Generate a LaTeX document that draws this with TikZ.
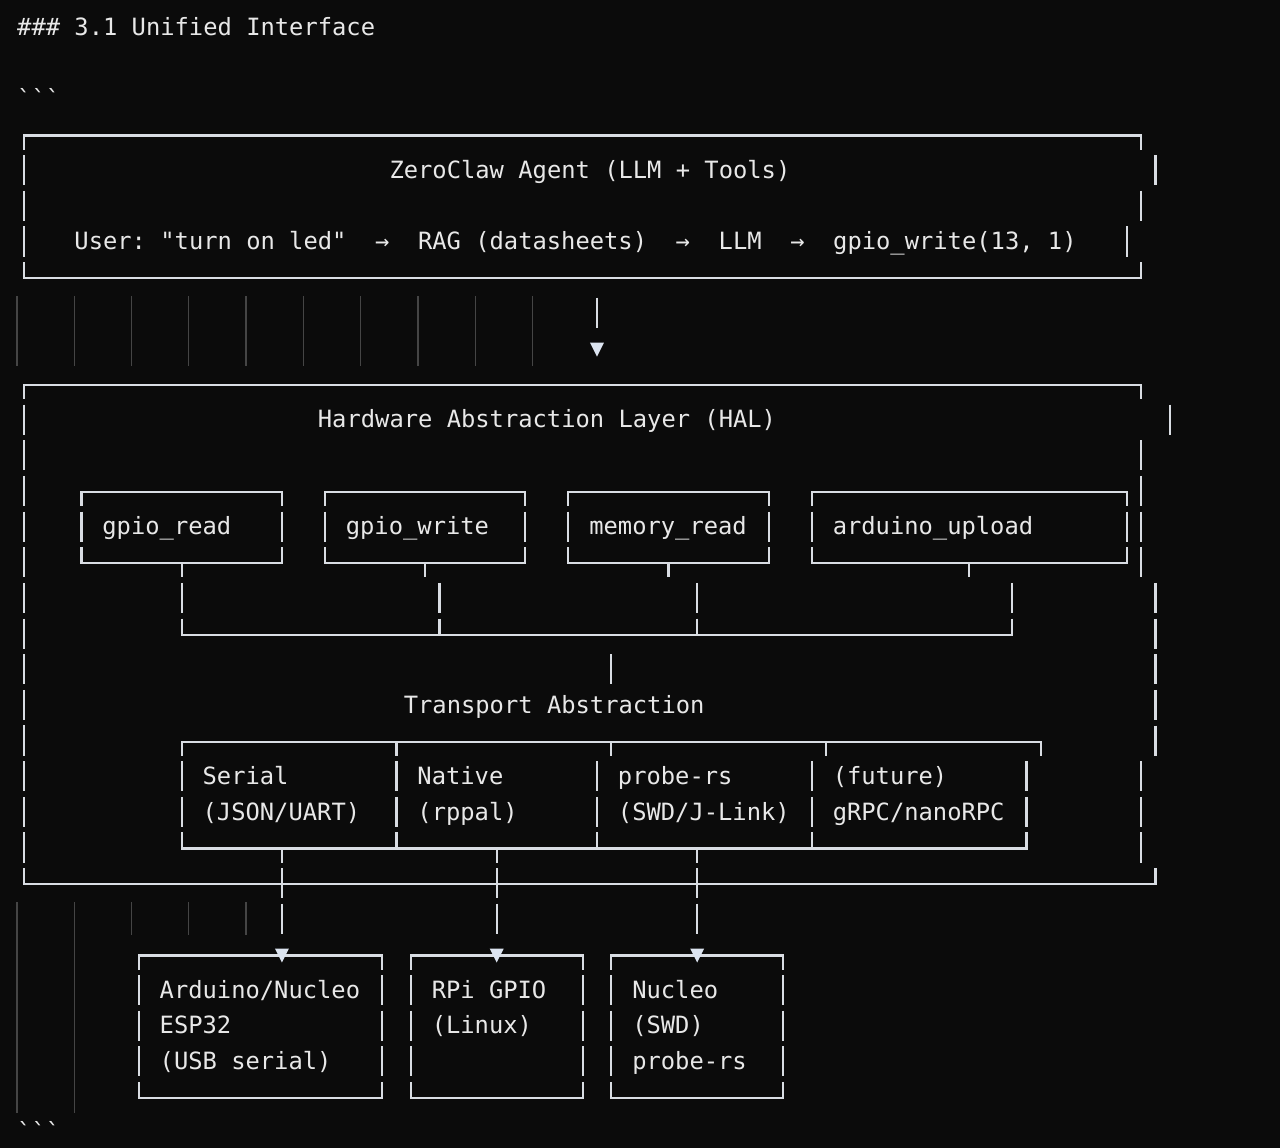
\documentclass[tikz,border=0pt]{standalone}
\usepackage{fontspec}
\setmonofont{DejaVu Sans Mono}
\usepackage{tikz}
\definecolor{bgcol}{HTML}{0B0B0B}
\definecolor{inkcol}{HTML}{E8E8E8}
\definecolor{linecol}{HTML}{D9DDE3}
\definecolor{tipcol}{HTML}{DCE4F0}
\definecolor{guidecol}{HTML}{454545}
\newcommand{\termfont}{\ttfamily\fontsize{23.78pt}{35.65pt}\selectfont\frenchspacing\hyphenpenalty=10000\exhyphenpenalty=10000}
\tikzset{
    wire/.style={draw=linecol, line width=2.2pt},
    hline/.style={wire, line cap=rect},
    vline/.style={wire, dash pattern=on 30.15pt off 5.5pt, dash phase=16.15pt},
    guide/.style={draw=guidecol, line width=1.3pt},
    termtext/.style={font=\termfont, text=inkcol, inner sep=0pt, anchor=base west},
    termbox/.style 2 args={font=\termfont, text=inkcol, anchor=north west, inner xsep=20.98pt, inner ysep=0pt, outer sep=0pt, align=left, text width=#1, minimum height=#2, execute at begin node={\spaceskip=0pt\xspaceskip=0pt\strut}, execute at end node=\strut}
}
\newcommand{\cellbar}[2]{\draw [wire] (#1, #2-0.407) -- (#1, #2+0.438);}
\newcommand{\downhalf}[2]{\draw [wire] (#1, #2+0.045) -- (#1, #2+0.438);}
\newcommand{\uphalf}[2]{\draw [wire] (#1, #2-0.407) -- (#1, #2+0.045);}
\newcommand{\downtip}[1]{\fill [tipcol] (#1) ++(-0.49, -0.196) -- ++(0.98, 0) -- ++(-0.49, 0.392) -- cycle;}
\newcommand{\frameit}[1]{%
    \draw [hline] (#1.north west) -- (#1.north east);
    \draw [hline] (#1.south west) -- (#1.south east);
    \draw [vline] (#1.north west) -- (#1.south west);
    \draw [vline] (#1.north east) -- (#1.south east);}

\begin{document}
\begin{tikzpicture}[x=14.32pt, y=-35.65pt]
    \fill [bgcol] (-1.1872, -0.7574) rectangle (88.198, 31.444);
    \useasboundingbox (-1.1872, -0.7574) rectangle (88.198, 31.444);

    \node [termtext] (heading) at (0, 0.247) {\#\#\# 3.1 Unified Interface};
    \node [termtext] (fenceopen) at (0, 2.247) {\textasciigrave\textasciigrave\textasciigrave};
    \node [termtext] (fenceclose) at (0, 31.247) {\textasciigrave\textasciigrave\textasciigrave};

    % agent box
    \draw [hline] (0.5, 3.045) -- (78.5, 3.045);
    \draw [hline] (0.5, 7.045) -- (78.5, 7.045);
    \draw [vline] (0.5, 3.045) -- (0.5, 7.045);
    \downhalf{78.5}{3} \cellbar{79.5}{4} \cellbar{78.5}{5} \cellbar{77.5}{6} \uphalf{78.5}{7}
    \node [termtext] (agenttitle) at (26, 4.247) {ZeroClaw Agent (LLM + Tools)};
    \node [termtext] (agentflow) at (4, 6.247) {User: "turn on led"~~→~~RAG (datasheets)~~→~~LLM~~→~~gpio\_write(13, 1)};

    \foreach \x in {0, 4, ..., 36} \draw [guide] (\x, 7.55) -- (\x, 9.5);
    \coordinate (agentout) at (40.5, 8);
    \coordinate (halin) at (40.5, 9.05);
    \cellbar{40.5}{8}
    \downtip{halin}

    % HAL box
    \draw [hline] (0.5, 10.045) -- (78.5, 10.045);
    \draw [hline] (0.5, 24.045) -- (79.5, 24.045);
    \draw [vline] (0.5, 10.045) -- (0.5, 24.045);
    \downhalf{78.5}{10} \cellbar{80.5}{11}
    \foreach \r in {12, ..., 15} {\cellbar{78.5}{\r}}
    \foreach \r in {16, ..., 20} {\cellbar{79.5}{\r}}
    \foreach \r in {21, 22, 23} {\cellbar{78.5}{\r}}
    \uphalf{79.5}{24}
    \node [termtext] (haltitle) at (21, 11.247) {Hardware Abstraction Layer (HAL)};

    \node [termbox={158.52pt}{71.3pt}] (tread) at (4.5, 13.045) {gpio\_read};
    \node [termbox={158.52pt}{71.3pt}] (twrite) at (21.5, 13.045) {gpio\_write};
    \node [termbox={158.52pt}{71.3pt}] (tmem) at (38.5, 13.045) {memory\_read};
    \node [termbox={273.08pt}{71.3pt}] (tupload) at (55.5, 13.045) {arduino\_upload};
    \frameit{tread} \frameit{twrite} \frameit{tmem} \frameit{tupload}

    \draw [wire] (tread.south) -- ++(0, 0.393);
    \draw [wire] (twrite.south) -- ++(0, 0.393);
    \draw [wire] (tmem.south) -- ++(0, 0.393);
    \draw [wire] (tupload.south) -- ++(0, 0.393);
    \foreach \x in {11.5, 29.5, 47.5, 69.5} {\cellbar{\x}{16} \uphalf{\x}{17}}
    \draw [hline] (11.5, 17.045) -- (69.5, 17.045);
    \cellbar{41.5}{18}
    \node [termtext] (transtitle) at (27, 19.247) {Transport Abstraction};

    % transport table
    \node [termbox={172.84pt}{106.95pt}] (tserial) at (11.5, 20.045) {Serial\\(JSON/UART)};
    \node [termbox={158.52pt}{106.95pt}] (tnative) at (26.5, 20.045) {Native\\(rppal)};
    \node [termbox={172.84pt}{106.95pt}] (tprobe) at (40.5, 20.045) {probe-rs\\(SWD/J-Link)};
    \node [termbox={172.84pt}{106.95pt}] (tfuture) at (55.5, 20.045) {(future)\\gRPC/nanoRPC};
    \draw [hline] (11.5, 20.045) -- (71.5, 20.045);
    \draw [hline] (11.5, 23.045) -- (70.5, 23.045);
    \foreach \x in {11.5, 26.5, 41.5, 56.5, 71.5} {\downhalf{\x}{20}}
    \foreach \x in {11.5, 26.5, 40.5, 55.5, 70.5} {\cellbar{\x}{21} \cellbar{\x}{22} \uphalf{\x}{23}}

    % devices
    \node [termbox={201.48pt}{142.6pt}] (darduino) at (8.5, 26.045) {Arduino/Nucleo\\ESP32\\(USB serial)};
    \node [termbox={129.88pt}{142.6pt}] (drpi) at (27.5, 26.045) {RPi GPIO\\(Linux)\\\mbox{}};
    \node [termbox={129.88pt}{142.6pt}] (dnucleo) at (41.5, 26.045) {Nucleo\\(SWD)\\probe-rs};
    \frameit{darduino} \frameit{drpi} \frameit{dnucleo}

    \coordinate (serialout) at (18.5, 23.045);
    \coordinate (nativeout) at (33.5, 23.045);
    \coordinate (probeout) at (47.5, 23.045);
    \draw [vline] (serialout) -- ++(0, 2.395);
    \draw [vline] (nativeout) -- ++(0, 2.395);
    \draw [vline] (probeout) -- ++(0, 2.395);
    \downtip{serialout |- darduino.north}
    \downtip{nativeout |- drpi.north}
    \downtip{probeout |- dnucleo.north}

    \draw [guide] (0, 24.54) -- (0, 30.46);
    \draw [guide] (4, 24.54) -- (4, 30.46);
    \foreach \x in {8, 12, 16} \draw [guide] (\x, 24.54) -- (\x, 25.47);
\end{tikzpicture}
\end{document}
